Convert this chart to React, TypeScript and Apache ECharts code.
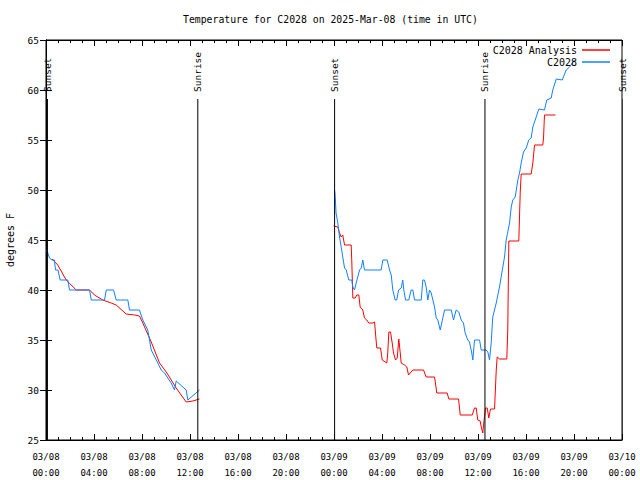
import React, { useEffect, useRef } from "react";
import * as echarts from "echarts";

// Time in hours since 2025-03-08 00:00 UTC, temperature in degrees F
const analysisDay1Hours = [0.5, 0.98, 1.68, 2.52, 3.63, 4.04, 4.73, 5.43, 5.85, 6.68, 7.38, 7.79, 8.07, 8.77, 9.46, 10.02, 10.85, 11.68, 12.23, 12.79];
const analysisDay1Temps = [43.1, 42.5, 41.0, 40.0, 40.0, 39.5, 39.0, 38.7, 38.5, 37.6, 37.5, 37.4, 36.7, 34.8, 32.7, 31.8, 30.2, 28.8, 28.9, 29.1];

const analysisDay2Hours = [23.96, 24.32, 24.46, 24.6, 24.73, 24.88, 25.43, 25.48, 25.57, 25.77, 25.9, 26.07, 26.18, 26.4, 26.54, 26.73, 26.9, 27.23, 27.38, 27.52, 27.57, 27.88, 28.02, 28.4, 28.48, 28.57, 28.71, 28.85, 28.96, 29.13, 29.27, 29.4, 29.52, 29.6, 29.88, 30.07, 30.21, 30.35, 30.57, 31.46, 31.68, 32.38, 32.57, 33.43, 33.57, 34.38, 34.52, 35.52, 35.71, 35.85, 35.98, 36.18, 36.27, 36.4, 36.48, 36.63, 36.77, 36.9, 37.04, 37.38, 37.52, 37.6, 37.79, 38.4, 38.48, 38.54, 38.57, 39.4, 39.52, 39.6, 40.43, 40.57, 40.71, 41.4, 41.46, 41.54, 42.46];
const analysisDay2Temps = [46.4, 46.3, 45.7, 45.3, 45.5, 44.5, 44.5, 43.0, 39.2, 39.2, 39.5, 39.5, 38.3, 38.0, 37.2, 37.0, 36.7, 36.7, 36.8, 34.8, 34.2, 34.2, 33.0, 32.7, 33.7, 35.8, 35.8, 34.7, 33.7, 33.0, 33.2, 35.1, 33.7, 32.7, 32.5, 32.3, 31.5, 31.7, 32.0, 32.0, 31.3, 31.3, 29.7, 29.7, 29.1, 29.1, 27.5, 27.5, 28.2, 28.2, 27.0, 26.9, 26.3, 25.7, 26.7, 28.2, 28.2, 27.2, 28.1, 28.1, 32.0, 33.3, 33.1, 33.1, 36.0, 42.0, 44.9, 44.9, 49.8, 51.6, 51.6, 52.7, 54.5, 54.5, 55.2, 57.5, 57.5];

const obsDay1Hours = [0.07, 0.29, 0.5, 0.71, 0.79, 1.0, 1.18, 1.82, 1.96, 3.63, 3.77, 4.88, 5.02, 5.63, 5.85, 6.82, 6.96, 7.79, 8.07, 8.48, 8.77, 9.32, 9.6, 9.88, 10.43, 10.71, 10.85, 11.68, 11.82, 12.79];
const obsDay1Temps = [44.0, 43.2, 43.0, 43.0, 42.0, 42.0, 41.0, 41.0, 40.0, 40.0, 39.0, 39.0, 40.0, 40.0, 39.0, 39.0, 38.0, 38.0, 37.0, 36.0, 34.0, 32.7, 32.0, 31.7, 30.7, 30.0, 30.9, 30.0, 29.0, 30.0];

const obsDay2Hours = [24.04, 24.08, 24.13, 24.17, 24.32, 24.46, 24.6, 24.73, 24.88, 25.02, 25.23, 25.48, 25.57, 25.71, 25.85, 26.13, 26.27, 26.4, 26.54, 27.93, 28.07, 28.43, 28.63, 28.77, 28.9, 29.1, 29.23, 29.38, 29.6, 29.73, 29.82, 29.96, 30.23, 30.43, 30.57, 30.71, 31.27, 31.4, 31.54, 31.68, 31.82, 31.96, 32.1, 32.38, 32.52, 32.65, 32.85, 33.07, 33.21, 33.77, 33.96, 34.18, 34.4, 34.6, 34.79, 34.93, 35.15, 35.29, 35.48, 35.57, 35.71, 36.13, 36.27, 36.68, 36.82, 36.96, 37.1, 37.23, 37.52, 37.79, 38.07, 38.21, 38.35, 38.63, 38.77, 38.9, 39.1, 39.32, 39.46, 39.6, 39.79, 40.02, 40.23, 40.43, 40.57, 40.85, 41.07, 41.54, 41.73, 42.1, 42.23, 42.52, 43.02, 43.35, 43.63, 44.04];
const obsDay2Temps = [50.0, 49.7, 48.7, 47.7, 46.7, 45.3, 44.3, 43.3, 42.2, 42.0, 41.0, 41.0, 40.3, 40.0, 40.7, 42.0, 42.2, 43.0, 42.0, 42.0, 43.0, 43.0, 42.0, 41.5, 40.0, 39.0, 39.0, 40.0, 40.2, 41.0, 40.0, 39.0, 39.0, 40.0, 40.0, 39.0, 39.0, 41.0, 41.0, 40.3, 39.0, 40.0, 39.7, 38.3, 37.2, 37.0, 36.0, 37.2, 38.0, 38.0, 37.0, 38.0, 37.8, 37.0, 36.7, 35.7, 35.0, 34.8, 33.7, 33.0, 35.0, 35.0, 34.0, 34.0, 33.8, 33.0, 34.7, 37.3, 38.7, 40.3, 42.3, 43.3, 45.0, 46.7, 48.3, 49.0, 49.3, 51.0, 51.7, 52.7, 53.8, 54.2, 55.0, 55.2, 56.3, 57.3, 58.1, 58.0, 59.0, 59.2, 60.0, 61.1, 61.0, 62.0, 62.3, 63.0];

const eventNames = ["Sunset", "Sunrise", "Sunset", "Sunrise", "Sunset"];
const eventHours = [0.12, 12.65, 24.05, 36.58, 48.08];
const eventLineTop = 59.1;

const yMin = 25;
const yMax = 65;
const xMin = 0;
const xMax = 48;

const FONT = "DejaVu Sans Mono";
const RED = "#ff0000";
const BLUE = "#1080ff";

const zip = (a: number[], b: number[]) => a.map((v, i) => [v, b[i]]);
const pad = (n: number) => (n < 10 ? "0" + n : "" + n);

export default function App() {
  const ref = useRef<HTMLDivElement>(null);

  useEffect(() => {
    if (!ref.current) return;
    const chart = echarts.init(ref.current, undefined, { renderer: "svg" });

    const lineBase = {
      type: "line",
      showSymbol: false,
      symbol: "none",
      lineStyle: { width: 1 },
      xAxisIndex: 0,
      yAxisIndex: 0,
    };

    const eventSeries = eventHours.map((h, i) => ({
      type: "line",
      name: eventNames[i],
      xAxisIndex: 0,
      yAxisIndex: 0,
      clip: false,
      symbol: "circle",
      symbolSize: 0,
      showSymbol: true,
      silent: true,
      lineStyle: { width: 1, color: "#000" },
      itemStyle: { color: "#000" },
      data: [
        { value: [h, yMin] },
        {
          value: [h, eventLineTop],
          label: {
            show: true,
            formatter: eventNames[i],
            position: "top",
            distance: 7,
            rotate: 90,
            align: "left",
            verticalAlign: "middle",
            fontFamily: FONT,
            fontSize: 9.5,
            color: "#000",
          },
        },
      ],
    }));

    const axisCommonX = {
      type: "value",
      min: xMin,
      max: xMax,
      interval: 4,
      axisLine: { show: true, lineStyle: { color: "#000", width: 1 } },
      axisTick: { show: true, inside: true, length: 6, lineStyle: { color: "#000" } },
      minorTick: { show: true, splitNumber: 4, length: 3, lineStyle: { color: "#000" } },
      splitLine: { show: false },
      minorSplitLine: { show: false },
    };
    const axisCommonY = {
      type: "value",
      min: yMin,
      max: yMax,
      interval: 5,
      axisLine: { show: true, lineStyle: { color: "#000", width: 1 } },
      axisTick: { show: true, inside: true, length: 6, lineStyle: { color: "#000" } },
      splitLine: { show: false },
    };

    chart.setOption({
      animation: false,
      backgroundColor: "#fff",
      textStyle: { fontFamily: FONT },
      title: {
        text: "Temperature for C2028 on 2025-Mar-08 (time in UTC)",
        left: 183,
        top: 14,
        padding: 0,
        textStyle: { fontFamily: FONT, fontSize: 9.8, fontWeight: "normal", color: "#000" },
      },
      legend: {
        data: ["C2028 Analysis", "C2028"],
        orient: "vertical",
        align: "right",
        right: 30,
        top: 44,
        padding: 0,
        itemGap: 0,
        itemWidth: 28,
        itemHeight: 1.5,
        icon: "rect",
        textStyle: { fontFamily: FONT, fontSize: 10, color: "#000", lineHeight: 12 },
      },
      grid: {
        left: 46,
        right: 18,
        top: 40,
        bottom: 40,
        show: true,
        borderColor: "#000",
        borderWidth: 1,
        containLabel: false,
        outerBoundsMode: "none",
      },
      xAxis: [
        {
          ...axisCommonX,
          position: "bottom",
          axisLabel: {
            show: true,
            margin: 9,
            fontFamily: FONT,
            fontSize: 9,
            lineHeight: 16,
            color: "#000",
            formatter: (v: number) => {
              const day = 8 + Math.floor(v / 24);
              const hr = v % 24;
              return "03/" + pad(day) + "\n" + pad(hr) + ":00";
            },
          },
        },
        {
          ...axisCommonX,
          position: "top",
          axisLabel: { show: false },
        },
      ],
      yAxis: [
        {
          ...axisCommonY,
          position: "left",
          name: "degrees F",
          nameLocation: "middle",
          nameRotate: 90,
          nameGap: 31,
          nameTextStyle: { fontFamily: FONT, fontSize: 10, color: "#000" },
          axisLabel: { show: true, margin: 7, fontFamily: FONT, fontSize: 9.5, color: "#000" },
        },
        {
          ...axisCommonY,
          position: "right",
          axisLabel: { show: false },
        },
      ],
      series: [
        { ...lineBase, name: "C2028 Analysis", color: RED, lineStyle: { width: 1, color: RED }, data: zip(analysisDay1Hours, analysisDay1Temps) },
        { ...lineBase, name: "C2028 Analysis", color: RED, lineStyle: { width: 1, color: RED }, data: zip(analysisDay2Hours, analysisDay2Temps) },
        { ...lineBase, name: "C2028", color: BLUE, lineStyle: { width: 1, color: BLUE }, data: zip(obsDay1Hours, obsDay1Temps) },
        { ...lineBase, name: "C2028", color: BLUE, lineStyle: { width: 1, color: BLUE }, data: zip(obsDay2Hours, obsDay2Temps) },
        ...eventSeries,
      ],
    });

    return () => chart.dispose();
  }, []);

  return (
    <div
      ref={ref}
      style={{ position: "absolute", left: 0, top: 0, width: 640, height: 480, background: "#fff" }}
    />
  );
}
